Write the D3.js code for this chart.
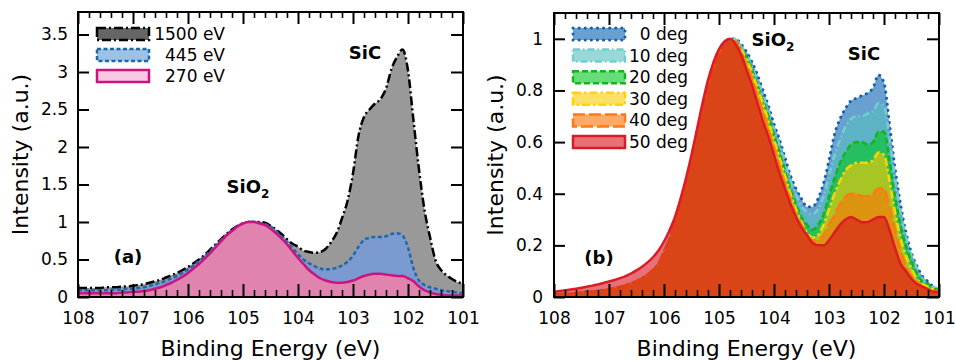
<!DOCTYPE html>
<meta charset="utf-8">
<script src="https://d3js.org/d3.v7.min.js"></script>
<style>
  body { margin: 0; background: #fff; }
  text { font-family: "DejaVu Sans", Verdana, sans-serif; fill: #000; }
</style>
<body>
<script>
    // ---- data ----
    var energy = [108.0,107.9,107.8,107.7,107.6,107.5,107.4,107.3,107.2,107.1,
                  107.0,106.9,106.8,106.7,106.6,106.5,106.4,106.3,106.2,106.1,
                  106.0,105.9,105.8,105.7,105.6,105.5,105.4,105.3,105.2,105.1,
                  105.0,104.9,104.8,104.7,104.6,104.5,104.4,104.3,104.2,104.1,
                  104.0,103.9,103.8,103.7,103.6,103.5,103.4,103.3,103.2,103.1,
                  103.0,102.9,102.8,102.7,102.6,102.5,102.4,102.3,102.2,102.1,
                  102.0,101.9,101.8,101.7,101.6,101.5,101.4,101.3,101.2,101.1,
                  101.0];

    // panel (a): photon energy series
    var ev1500 = [0.12,0.12,0.12,0.12,0.12,0.13,0.13,0.13,0.14,0.14,
                  0.15,0.16,0.17,0.19,0.21,0.23,0.26,0.29,0.32,0.36,
                  0.40,0.45,0.50,0.56,0.63,0.70,0.77,0.84,0.90,0.95,
                  0.98,1.00,1.00,1.00,0.99,0.95,0.90,0.84,0.77,0.71,
                  0.67,0.62,0.60,0.59,0.60,0.64,0.73,0.85,1.05,1.28,
                  1.65,2.15,2.40,2.50,2.58,2.64,2.78,3.04,3.20,3.30,
                  3.02,2.35,1.70,1.16,0.80,0.49,0.36,0.29,0.24,0.20,
                  0.18];
    var ev445  = [0.09,0.09,0.09,0.09,0.09,0.09,0.10,0.10,0.10,0.11,
                  0.11,0.12,0.13,0.15,0.17,0.19,0.22,0.25,0.28,0.32,
                  0.37,0.42,0.48,0.54,0.61,0.68,0.76,0.83,0.89,0.94,
                  0.98,1.00,1.00,0.99,0.97,0.94,0.88,0.81,0.73,0.65,
                  0.57,0.50,0.45,0.41,0.38,0.37,0.37,0.39,0.42,0.47,
                  0.55,0.67,0.76,0.79,0.80,0.80,0.81,0.84,0.85,0.82,
                  0.66,0.38,0.22,0.16,0.13,0.11,0.09,0.08,0.07,0.06,
                  0.05];
    var ev270  = [0.05,0.05,0.05,0.05,0.05,0.05,0.05,0.05,0.06,0.06,
                  0.07,0.07,0.08,0.09,0.11,0.13,0.16,0.19,0.23,0.27,
                  0.32,0.38,0.44,0.51,0.58,0.66,0.74,0.82,0.88,0.94,
                  0.98,1.00,1.00,0.98,0.96,0.91,0.85,0.78,0.70,0.61,
                  0.52,0.44,0.36,0.30,0.25,0.22,0.20,0.19,0.19,0.20,
                  0.22,0.25,0.28,0.30,0.31,0.31,0.30,0.29,0.28,0.28,
                  0.25,0.21,0.14,0.09,0.06,0.04,0.03,0.02,0.02,0.02,
                  0.02];

    // panel (b): emission angle series
    var deg0  = [0.010,0.011,0.012,0.013,0.015,0.017,0.019,0.021,0.023,0.026,
                 0.030,0.034,0.039,0.045,0.052,0.061,0.072,0.086,0.104,0.128,
                 0.175,0.225,0.29,0.37,0.45,0.54,0.64,0.73,0.82,0.89,
                 0.95,0.98,1.00,1.00,0.98,0.95,0.91,0.86,0.80,0.74,
                 0.67,0.61,0.54,0.47,0.42,0.38,0.35,0.35,0.38,0.44,
                 0.53,0.63,0.69,0.73,0.76,0.77,0.78,0.79,0.81,0.86,
                 0.83,0.67,0.50,0.36,0.25,0.17,0.12,0.08,0.06,0.04,
                 0.03];
    var deg10 = [0.010,0.011,0.012,0.013,0.015,0.017,0.019,0.021,0.023,0.026,
                 0.030,0.034,0.039,0.045,0.052,0.061,0.072,0.086,0.104,0.128,
                 0.175,0.225,0.29,0.36,0.44,0.53,0.63,0.72,0.81,0.88,
                 0.94,0.98,0.99,1.00,0.97,0.94,0.89,0.84,0.78,0.72,
                 0.65,0.59,0.52,0.45,0.40,0.35,0.33,0.32,0.34,0.39,
                 0.47,0.55,0.61,0.66,0.69,0.70,0.70,0.71,0.72,0.75,
                 0.74,0.62,0.46,0.33,0.23,0.16,0.11,0.07,0.05,0.04,
                 0.03];
    var deg20 = [0.010,0.011,0.012,0.013,0.015,0.017,0.019,0.021,0.023,0.026,
                 0.030,0.034,0.039,0.045,0.052,0.061,0.072,0.086,0.104,0.128,
                 0.175,0.225,0.29,0.36,0.44,0.53,0.63,0.72,0.81,0.88,
                 0.94,0.97,0.99,0.99,0.96,0.93,0.88,0.82,0.76,0.70,
                 0.63,0.56,0.49,0.42,0.36,0.31,0.28,0.26,0.28,0.32,
                 0.39,0.46,0.52,0.56,0.59,0.60,0.60,0.59,0.60,0.64,
                 0.64,0.53,0.39,0.28,0.20,0.14,0.09,0.06,0.05,0.03,
                 0.03];
    var deg30 = [0.010,0.011,0.012,0.013,0.015,0.017,0.019,0.021,0.023,0.026,
                 0.030,0.034,0.039,0.045,0.052,0.061,0.072,0.086,0.104,0.128,
                 0.175,0.225,0.29,0.36,0.44,0.53,0.63,0.72,0.81,0.88,
                 0.94,0.97,0.99,0.99,0.96,0.92,0.87,0.81,0.75,0.68,
                 0.61,0.54,0.47,0.40,0.34,0.29,0.25,0.23,0.24,0.28,
                 0.34,0.40,0.45,0.49,0.51,0.52,0.52,0.52,0.53,0.56,
                 0.55,0.45,0.33,0.23,0.16,0.11,0.07,0.05,0.04,0.03,
                 0.02];
    var deg40 = [0.010,0.011,0.012,0.013,0.015,0.017,0.019,0.021,0.023,0.026,
                 0.030,0.034,0.039,0.045,0.052,0.061,0.072,0.086,0.104,0.128,
                 0.175,0.225,0.29,0.36,0.44,0.53,0.63,0.72,0.81,0.88,
                 0.94,0.97,0.99,0.99,0.95,0.90,0.85,0.78,0.72,0.65,
                 0.58,0.51,0.44,0.38,0.32,0.28,0.24,0.22,0.22,0.24,
                 0.28,0.32,0.36,0.39,0.40,0.40,0.39,0.39,0.40,0.42,
                 0.42,0.35,0.26,0.18,0.12,0.08,0.06,0.04,0.03,0.02,
                 0.02];
    var deg50 = [0.020,0.023,0.026,0.029,0.032,0.036,0.040,0.044,0.049,0.054,
                 0.060,0.066,0.073,0.081,0.091,0.103,0.117,0.134,0.154,0.180,
                 0.215,0.258,0.31,0.38,0.46,0.55,0.65,0.75,0.84,0.91,
                 0.96,0.99,1.00,0.98,0.94,0.88,0.82,0.75,0.68,0.62,
                 0.55,0.48,0.42,0.36,0.31,0.27,0.24,0.21,0.20,0.20,
                 0.22,0.25,0.28,0.30,0.31,0.30,0.29,0.29,0.30,0.31,
                 0.31,0.26,0.19,0.13,0.10,0.07,0.05,0.04,0.03,0.02,
                 0.02];

    var xTicks  = [108, 107, 106, 105, 104, 103, 102, 101];
    var yTicksA = [0, 0.5, 1, 1.5, 2, 2.5, 3, 3.5];
    var yTicksB = [0, 0.2, 0.4, 0.6, 0.8, 1];
    var labelsA = ['1500 eV', '445 eV', '270 eV'];
    var labelsB = ['0 deg', '10 deg', '20 deg', '30 deg', '40 deg', '50 deg'];

    // ---- styles ----
    var stylesA = [
        {fill: '#999999', sw: '#666666', stroke: '#000', dash: '9,3,2,3', width: 2.5},
        {fill: '#7b9bd0', sw: '#9cc2e6', stroke: '#1d68a8', dash: '4,2.5', width: 2.5},
        {fill: '#e084af', sw: '#f7c9e2', stroke: '#cc1380', dash: null, width: 2.5}
    ];
    var stylesB = [
        {fill: 'rgb(7,97,177)',   stroke: '#1060b0', dash: '0.1,6', width: 3, cap: 'round'},
        {fill: 'rgb(85,190,190)', stroke: '#74cdd0', dash: '7,3,1.5,3', width: 2.5},
        {fill: 'rgb(0,198,28)',   stroke: '#14b41e', dash: '6,3', width: 2.5},
        {fill: 'rgb(255,203,0)',  stroke: '#ffd400', dash: '8,3,2.5,3', width: 2.5},
        {fill: 'rgb(255,113,0)',  stroke: '#ff7a12', dash: '12,4', width: 2.5},
        {fill: 'rgb(217,17,30)',  stroke: '#dc1c24', dash: null, width: 2.5}
    ];

    var svg = d3.select('body').append('svg').attr('width', 955).attr('height', 361);

    function drawPanel(cfg) {
        var x = d3.scaleLinear().domain([108, 101]).range([cfg.left, cfg.right]);
        var y = d3.scaleLinear().domain([0, cfg.yMax]).range([cfg.bottom, cfg.top]);
        var g = svg.append('g');

        g.append('clipPath').attr('id', cfg.id)
            .append('rect')
            .attr('x', cfg.left).attr('y', cfg.top)
            .attr('width', cfg.right - cfg.left).attr('height', cfg.bottom - cfg.top);

        var area = d3.area()
            .x(function(d){ return x(d[0]); })
            .y0(y(0))
            .y1(function(d){ return y(d[1]); })
            .curve(d3.curveMonotoneX);
        var line = d3.line()
            .x(function(d){ return x(d[0]); })
            .y(function(d){ return y(d[1]); })
            .curve(d3.curveMonotoneX);

        var plot = g.append('g').attr('clip-path', 'url(#' + cfg.id + ')');
        cfg.series.forEach(function(s, i){
            var st = cfg.styles[i];
            var pts = energy.map(function(e, j){ return [e, s[j]]; });
            plot.append('path')
                .attr('d', area(pts))
                .attr('fill', st.fill)
                .attr('fill-opacity', cfg.alpha);
            plot.append('path')
                .attr('d', line(pts))
                .attr('fill', 'none')
                .attr('stroke', st.stroke)
                .attr('stroke-width', st.width)
                .attr('stroke-dasharray', st.dash)
                .attr('stroke-linecap', st.cap || 'butt');
        });

        // ticks on all four sides, pointing inwards
        var minor = d3.range(108, 100.99, -0.2).filter(function(v){
            return Math.abs(v - Math.round(v)) > 0.01;
        });
        function ax(gen, tx, ty, vals, size, fmt, pad) {
            var a = gen.tickValues(vals).tickSize(size).tickSizeOuter(0);
            a.tickFormat(fmt ? fmt : '');
            if (pad) a.tickPadding(pad);
            var s = g.append('g').attr('transform', 'translate(' + tx + ',' + ty + ')').call(a);
            s.select('.domain').remove();
            s.selectAll('line').attr('stroke', '#000').attr('stroke-width', size < -8 ? 2 : 1.6);
            s.selectAll('text').style('font-size', '17px')
                .style('font-family', '"DejaVu Sans", Verdana, sans-serif');
            return s;
        }
        var fmt = d3.format('~g');
        ax(d3.axisBottom(x), 0, cfg.bottom, xTicks, -13, fmt, 15);
        ax(d3.axisBottom(x), 0, cfg.bottom, minor, -7, null);
        ax(d3.axisTop(x), 0, cfg.top, xTicks, -12, null);
        ax(d3.axisTop(x), 0, cfg.top, minor, -6, null);
        ax(d3.axisLeft(y), cfg.left, 0, cfg.yTicks, -11, fmt, cfg.yPad);
        ax(d3.axisRight(y), cfg.right, 0, cfg.yTicks, -12, null);

        g.append('rect')
            .attr('x', cfg.left).attr('y', cfg.top)
            .attr('width', cfg.right - cfg.left).attr('height', cfg.bottom - cfg.top)
            .attr('fill', 'none').attr('stroke', '#000').attr('stroke-width', 2);

        // axis titles
        g.append('text')
            .attr('x', (cfg.left + cfg.right) / 2).attr('y', 356)
            .attr('text-anchor', 'middle').style('font-size', '22px')
            .text('Binding Energy (eV)');
        g.append('text')
            .attr('transform', 'translate(' + cfg.yTitleX + ',' + (cfg.top + cfg.bottom) / 2 + ') rotate(-90)')
            .attr('text-anchor', 'middle').style('font-size', '22px')
            .text('Intensity (a.u.)');

        // legend
        var lg = g.append('g');
        cfg.labels.forEach(function(lab, i){
            var st = cfg.styles[i];
            var cy = cfg.legTop + i * cfg.legStep;
            lg.append('rect')
                .attr('x', cfg.legX).attr('y', cy - 6)
                .attr('width', 52).attr('height', 12)
                .attr('fill', st.sw || st.fill)
                .attr('fill-opacity', st.sw ? 1 : cfg.alpha)
                .attr('stroke', st.stroke)
                .attr('stroke-width', st.width)
                .attr('stroke-dasharray', st.dash)
                .attr('stroke-linecap', st.cap || 'butt');
            lg.append('text')
                .attr('x', cfg.legTextX).attr('y', cy)
                .attr('dy', '0.35em')
                .attr('text-anchor', 'end')
                .style('font-size', '17px')
                .text(lab);
        });

        // annotations
        cfg.notes.forEach(function(n){
            var t = g.append('text')
                .attr('x', n.x).attr('y', n.y)
                .attr('text-anchor', 'middle')
                .style('font-size', '18px').style('font-weight', 'bold');
            t.append('tspan').text(n.text);
            if (n.sub) {
                t.append('tspan').attr('dy', 5).style('font-size', '12px').text(n.sub);
            }
        });
    }

    drawPanel({
        id: 'clipA', left: 78, right: 463, top: 12, bottom: 297, yMax: 3.8,
        yTicks: yTicksA, yPad: 10, yTitleX: 28, alpha: 1,
        series: [ev1500, ev445, ev270], styles: stylesA, labels: labelsA,
        legX: 97, legTextX: 225, legTop: 34, legStep: 21,
        notes: [
            {x: 365, y: 59, text: 'SiC'},
            {x: 248, y: 193, text: 'SiO', sub: '2'},
            {x: 128, y: 263, text: '(a)'}
        ]
    });

    drawPanel({
        id: 'clipB', left: 554, right: 939, top: 13, bottom: 297, yMax: 1.1,
        yTicks: yTicksB, yPad: 11, yTitleX: 503, alpha: 0.6,
        series: [deg0, deg10, deg20, deg30, deg40, deg50], styles: stylesB, labels: labelsB,
        legX: 573, legTextX: 688, legTop: 34, legStep: 21.6,
        notes: [
            {x: 773, y: 46, text: 'SiO', sub: '2'},
            {x: 864, y: 60, text: 'SiC'},
            {x: 599, y: 264, text: '(b)'}
        ]
    });
</script>
</body>
